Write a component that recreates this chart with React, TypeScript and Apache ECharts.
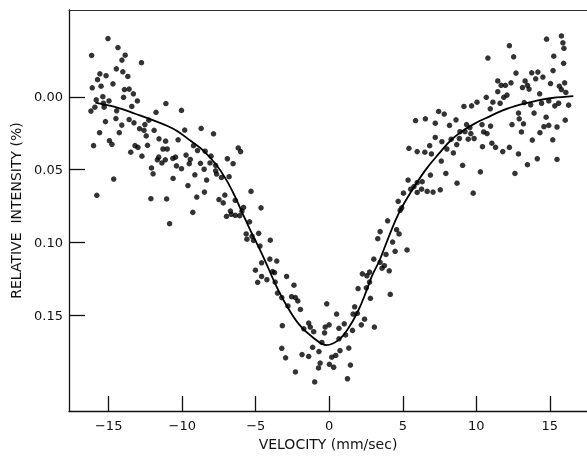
import React, { useEffect, useRef } from "react";
import * as echarts from "echarts";

const xTickValues = [-15, -10, -5, 0, 5, 10, 15];
const yTickValues = [0, 0.05, 0.1, 0.15];
const xAxisTitle = "VELOCITY (mm/sec)";
const yAxisTitle = "RELATIVE  INTENSITY (%)";

// fitted curve: [velocity, relative intensity]
const fitCurve = [
  [-15.9, 0.004], [-14.3, 0.0077], [-13.2, 0.0116], [-12.1, 0.0156], [-11.0, 0.02],
  [-10.35, 0.0234], [-9.45, 0.03], [-8.56, 0.0369], [-7.66, 0.047], [-7.0, 0.057],
  [-6.43, 0.068], [-5.87, 0.0806], [-5.3, 0.093], [-4.75, 0.1042], [-4.3, 0.114],
  [-3.64, 0.129], [-2.97, 0.142], [-2.07, 0.156], [-1.17, 0.1647], [-0.17, 0.1704],
  [0.62, 0.167], [1.29, 0.159], [1.96, 0.147], [2.52, 0.1334], [2.9, 0.123],
  [3.41, 0.1125], [4.08, 0.0952], [4.75, 0.0795], [5.65, 0.0638], [6.54, 0.0503],
  [7.44, 0.0392], [8.34, 0.0291], [9.23, 0.0223], [10.0, 0.0178], [10.68, 0.0145],
  [11.8, 0.0093], [12.92, 0.0055], [14.04, 0.0028], [15.15, 0.0008], [16.6, -0.0005],
];

// measured points: [velocity, relative intensity]
const dotsLeftWing = [
  [-15.05, -0.04], [-14.37, -0.0338], [-16.16, -0.0284], [-13.88, -0.0286], [-14.1, -0.0252],
  [-12.77, -0.0234], [-14.48, -0.0192], [-14.04, -0.0172], [-15.6, -0.0158], [-15.18, -0.0145],
  [-13.7, -0.014], [-15.76, -0.0118], [-14.71, -0.0089], [-15.52, -0.0073], [-16.12, -0.0062],
  [-13.93, -0.005], [-13.61, -0.0053], [-13.32, -0.0021], [-15.4, -0.0001], [-13.99, 0.0003],
  [-15.85, 0.0021], [-13.05, 0.0028], [-15.36, 0.0044], [-14.98, 0.0028], [-11.11, 0.0046],
  [-15.94, 0.0071], [-15.31, 0.0071], [-13.43, 0.0066], [-14.46, 0.0096], [-16.21, 0.0098],
  [-11.78, 0.0106], [-14.51, 0.0149], [-13.61, 0.0156], [-12.27, 0.016], [-15.22, 0.017],
  [-13.28, 0.0178], [-12.54, 0.019], [-14.11, 0.0194], [-12.9, 0.0219], [-12.6, 0.023],
  [-11.91, 0.023], [-15.62, 0.0246], [-14.28, 0.0246], [-12.45, 0.0268], [-11.58, 0.0288],
  [-11.13, 0.0304], [-14.95, 0.0301], [-14.78, 0.0326], [-16.03, 0.0335], [-13.21, 0.0335],
  [-13.01, 0.0347], [-12.36, 0.0333], [-11.31, 0.0358], [-11.02, 0.0358], [-13.5, 0.038],
  [-12.74, 0.0407], [-11.6, 0.0414], [-11.69, 0.0432], [-11.15, 0.0432], [-11.38, 0.0454],
  [-12.09, 0.0488], [-11.98, 0.0528], [-14.66, 0.0564], [-15.81, 0.0676], [-12.13, 0.0699],
  [-11.06, 0.0701],
];

const dotsLeftSlope = [
  [-10.05, 0.0093], [-8.71, 0.0217], [-9.83, 0.0228], [-7.87, 0.0254], [-10.28, 0.0295],
  [-9.23, 0.0335], [-8.96, 0.0369], [-8.44, 0.0373], [-6.19, 0.0351], [-6.03, 0.0376],
  [-8.04, 0.0407], [-9.74, 0.04], [-10.64, 0.0423], [-10.46, 0.0414], [-9.45, 0.043],
  [-9.52, 0.0459], [-8.76, 0.0456], [-8.11, 0.0454], [-7.73, 0.047], [-6.93, 0.0425],
  [-6.54, 0.0459], [-10.39, 0.0474], [-10.05, 0.0493], [-8.51, 0.0497], [-7.73, 0.0508],
  [-7.66, 0.053], [-9.14, 0.0535], [-7.33, 0.0553], [-6.81, 0.0548], [-10.62, 0.056],
  [-8.34, 0.0571], [-9.61, 0.0609], [-5.32, 0.0649], [-8.49, 0.0654], [-9.01, 0.0688],
  [-7.1, 0.0674], [-7.5, 0.0705], [-7.21, 0.0728], [-6.39, 0.071], [-4.64, 0.0762],
  [-5.83, 0.0759], [-6.72, 0.0784], [-5.94, 0.0784], [-9.28, 0.0793], [-6.66, 0.0806],
  [-6.39, 0.0813], [-6.09, 0.0816], [-6.99, 0.082], [-5.42, 0.0858], [-10.86, 0.0871],
  [-5.65, 0.0941], [-4.8, 0.0937], [-5.6, 0.0977], [-5.25, 0.0957], [-5.15, 0.0986],
  [-4.71, 0.1024], [-5.02, 0.119], [-4.87, 0.1273], [-4.6, 0.1233], [-4.6, 0.1139],
];

const dotsValley = [
  [-4.01, 0.0984], [-4.04, 0.1114], [-3.57, 0.1127], [-3.86, 0.1199], [-3.72, 0.1206],
  [-4.24, 0.1255], [-2.9, 0.1233], [-3.68, 0.1271], [-2.4, 0.1293], [-3.52, 0.1347],
  [-2.56, 0.1372], [-2.3, 0.1378], [-2.14, 0.1401], [-3.23, 0.1378], [-1.96, 0.1459],
  [-0.17, 0.1421], [-2.81, 0.1435], [0.5, 0.1491], [1.73, 0.1441], [2.74, 0.1203],
  [2.25, 0.1215], [2.56, 0.1228], [2.74, 0.1271], [1.96, 0.1316], [2.52, 0.1311],
  [2.8, 0.1383], [1.62, 0.1491], [1.91, 0.1486], [2.4, 0.1526], [-3.19, 0.1571],
  [-1.4, 0.1553], [-1.73, 0.1592], [-1.06, 0.1612], [-1.29, 0.158], [-0.28, 0.158],
  [-0.01, 0.1565], [-0.32, 0.162], [0.66, 0.1589], [1.02, 0.1558], [0.66, 0.1661],
  [1.11, 0.1634], [1.58, 0.1603], [2.18, 0.1565], [-0.5, 0.1686], [-1.13, 0.1719],
  [-0.7, 0.1748], [-3.23, 0.1726], [-2.97, 0.1791], [-1.85, 0.1769], [-1.4, 0.1782],
  [0.17, 0.1787], [0.44, 0.1775], [0.73, 0.1742], [1.33, 0.1724], [-0.62, 0.1827],
  [0.01, 0.1836], [0.3, 0.1856], [1.44, 0.1841], [-0.73, 0.1861], [-2.3, 0.1888],
  [-0.99, 0.1957], [1.24, 0.1935], [3.07, 0.158],
];

const dotsRightSlope = [
  [9.16, 0.0066], [9.68, 0.0062], [5.87, 0.0163], [6.54, 0.0151], [7.44, 0.01],
  [7.82, 0.0118], [7.21, 0.0181], [8.18, 0.0196], [8.62, 0.0158], [9.34, 0.019],
  [9.56, 0.0212], [9.23, 0.0239], [8.89, 0.0239], [9.63, 0.0252], [9.45, 0.0291],
  [9.85, 0.0286], [7.21, 0.0279], [8.29, 0.0291], [8.85, 0.0286], [7.66, 0.0308],
  [6.83, 0.0335], [8.0, 0.0358], [8.67, 0.0328], [5.42, 0.0353], [5.98, 0.0376],
  [6.5, 0.038], [6.95, 0.0392], [8.44, 0.0385], [7.62, 0.0441], [9.07, 0.047],
  [7.93, 0.0526], [6.88, 0.0537], [5.36, 0.0571], [5.98, 0.0589], [6.32, 0.0582],
  [5.76, 0.0616], [5.54, 0.0634], [6.28, 0.0634], [5.05, 0.0661], [5.98, 0.0656],
  [6.66, 0.0649], [7.06, 0.0654], [7.55, 0.0638], [8.69, 0.0593], [9.79, 0.0661],
  [4.69, 0.0717], [4.93, 0.0762], [4.82, 0.0779], [3.97, 0.0851], [3.46, 0.0925],
  [4.58, 0.0912], [3.3, 0.0974], [4.75, 0.0941], [4.31, 0.0997], [4.48, 0.106],
  [5.29, 0.1051], [3.86, 0.1082], [3.03, 0.1114], [3.46, 0.1136], [3.75, 0.1159],
  [3.59, 0.1176], [4.08, 0.1194], [4.15, 0.1356],
];

const dotsRightWing = [
  [14.78, -0.0396], [15.79, -0.0418], [15.89, -0.0371], [15.96, -0.0333], [12.25, -0.0351],
  [12.54, -0.0275], [10.79, -0.0266], [15.27, -0.0279], [15.94, -0.023], [15.22, -0.018],
  [12.7, -0.0163], [13.77, -0.0165], [14.19, -0.017], [14.53, -0.0136], [14.04, -0.0124],
  [13.32, -0.0109], [13.48, -0.0079], [13.59, -0.0053], [13.14, -0.0064], [11.46, -0.0109],
  [11.69, -0.0079], [11.98, -0.0079], [12.36, -0.0096], [11.46, -0.0035], [15.05, -0.0091],
  [15.65, -0.0073], [16.01, -0.0096], [15.79, -0.005], [16.09, -0.003], [14.31, -0.0021],
  [11.87, 0.0003], [12.09, -0.0012], [10.68, 0.0003], [11.13, 0.0037], [10.05, 0.0037],
  [11.62, 0.0044], [13.26, 0.0039], [13.7, 0.0055], [14.44, 0.0044], [14.93, 0.0028],
  [15.6, 0.0044], [15.34, 0.0062], [16.28, 0.0057], [10.95, 0.0082], [12.87, 0.0111],
  [13.93, 0.0111], [14.75, 0.014], [12.92, 0.0151], [16.05, 0.016], [13.21, 0.0185],
  [12.43, 0.019], [14.93, 0.0196], [14.6, 0.0205], [15.49, 0.0207], [10.39, 0.019],
  [10.97, 0.0201], [10.5, 0.0241], [10.73, 0.0252], [13.07, 0.0241], [14.33, 0.0246],
  [13.81, 0.0297], [15.2, 0.0295], [11.06, 0.0318], [10.42, 0.0342], [11.31, 0.0347],
  [12.25, 0.0347], [11.8, 0.0376], [12.87, 0.0392], [14.15, 0.0425], [15.49, 0.043],
  [13.48, 0.0466], [10.28, 0.0515], [12.63, 0.0526],
];

const FONT = "DejaVu Sans";
const INK = "#111";

export default function App() {
  const ref = useRef<HTMLDivElement>(null);
  useEffect(() => {
    if (!ref.current) return;
    const chart = echarts.init(ref.current, null, { renderer: "svg" });
    const allDots = [
      ...dotsLeftWing,
      ...dotsLeftSlope,
      ...dotsValley,
      ...dotsRightSlope,
      ...dotsRightWing,
    ];
    chart.setOption({
      animation: false,
      grid: { left: 69, top: 10, right: -7, bottom: 37 },
      xAxis: [
        {
          type: "value",
          min: -17.7,
          max: 17.53,
          name: xAxisTitle,
          nameLocation: "middle",
          nameGap: 16,
          nameTextStyle: { color: INK, fontFamily: FONT, fontSize: 14 },
          axisLine: { show: true, onZero: false, lineStyle: { color: INK, width: 1.3 } },
          axisTick: {
            show: true,
            inside: true,
            length: 15,
            customValues: xTickValues,
            lineStyle: { color: INK, width: 1.3 },
          },
          axisLabel: {
            customValues: xTickValues,
            margin: 8,
            color: INK,
            fontFamily: FONT,
            fontSize: 13,
            formatter: (v: number) => (v < 0 ? "\u2212" + Math.abs(v) : String(v)),
          },
          splitLine: { show: false },
        },
        {
          type: "value",
          position: "top",
          min: -17.7,
          max: 17.53,
          axisLine: { show: true, onZero: false, lineStyle: { color: "#333", width: 1 } },
          axisTick: { show: false },
          axisLabel: { show: false },
          splitLine: { show: false },
        },
      ],
      yAxis: {
        type: "value",
        inverse: true,
        min: -0.0596,
        max: 0.2157,
        name: yAxisTitle,
        nameLocation: "middle",
        nameGap: 41,
        nameTextStyle: { color: INK, fontFamily: FONT, fontSize: 14 },
        axisLine: { show: true, onZero: false, lineStyle: { color: INK, width: 1.3 } },
        axisTick: {
          show: true,
          inside: true,
          length: 16,
          customValues: yTickValues,
          lineStyle: { color: INK, width: 1.3 },
        },
        axisLabel: {
          customValues: yTickValues,
          margin: 6,
          color: INK,
          fontFamily: FONT,
          fontSize: 13,
          formatter: (v: number) => v.toFixed(2),
        },
        splitLine: { show: false },
      },
      series: [
        {
          type: "scatter",
          xAxisIndex: 0,
          data: allDots,
          symbol: "circle",
          symbolSize: 5.5,
          itemStyle: { color: "#000" },
          silent: true,
        },
        {
          type: "line",
          xAxisIndex: 0,
          data: fitCurve,
          smooth: 0.4,
          showSymbol: false,
          lineStyle: { color: "#000", width: 1.8 },
          silent: true,
        },
      ],
    });
    return () => chart.dispose();
  }, []);
  return (
    <div
      ref={ref}
      style={{ position: "fixed", left: 0, top: 0, width: 587, height: 456 }}
    />
  );
}
